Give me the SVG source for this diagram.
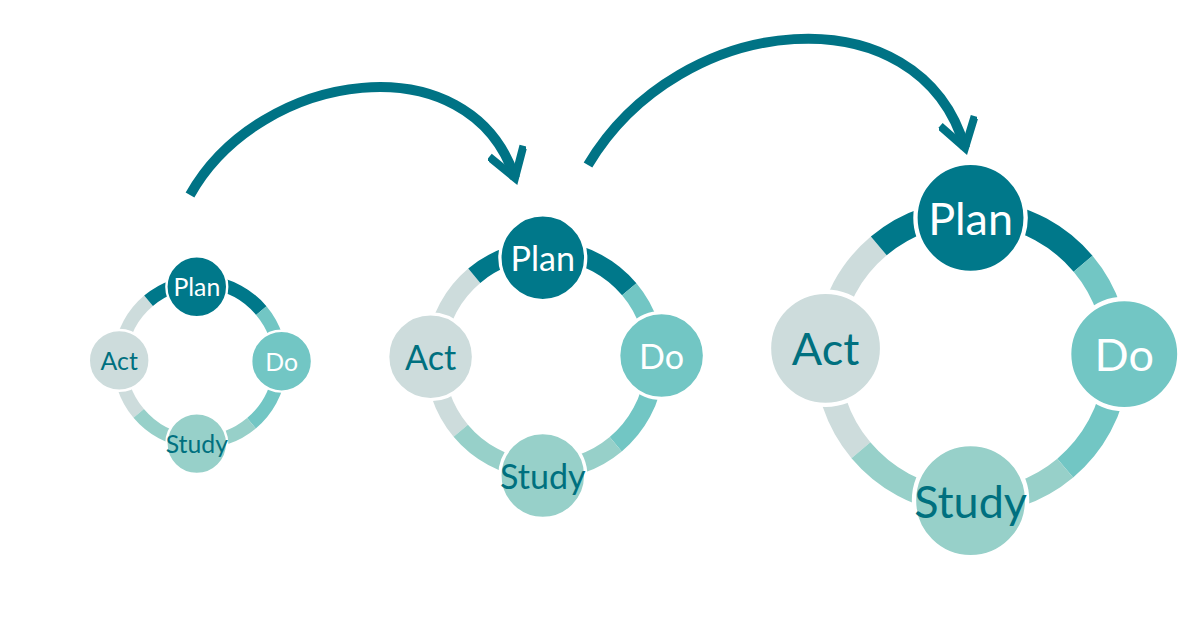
<svg xmlns="http://www.w3.org/2000/svg" width="1198" height="618" viewBox="0 0 1198 618">
<defs>
<style>
.rp{fill:none;stroke:#00788a;stroke-width:17}
.rd{fill:none;stroke:#72c6c4;stroke-width:17}
.rs{fill:none;stroke:#97d0c9;stroke-width:17}
.ra{fill:none;stroke:#cddcdc;stroke-width:17}
.n{stroke:#fff;stroke-width:3}
.t{font-family:Lato,"Open Sans",sans-serif;font-size:31px;text-anchor:middle;dominant-baseline:central}
.big{fill:none;stroke:#007385;stroke-width:10;stroke-linecap:butt}
</style>
<marker id="ch" viewBox="0 0 10 10" refX="8" refY="5" markerWidth="4" markerHeight="4" orient="auto" markerUnits="strokeWidth">
<polyline points="1,0.5 8,5 1,9.5" fill="none" stroke="#007385" stroke-width="2"/>
</marker>
</defs>
<rect width="1198" height="618" fill="#fff"/>
<g id="connectors">
<path class="big" d="M190 195 C260 70 470 40 515 178" marker-end="url(#ch)"/>
<path class="big" d="M588 165 C680 10 920 -10 965 148" marker-end="url(#ch)"/>
</g>
<g id="cycle1" transform="translate(200 362) scale(0.8)">
<g id="ring1">
<path class="ra" d="M-76.6 64.3 A100 100 0 0 1 -64.3 -76.6"/>
<path class="rp" d="M-64.3 -76.6 A100 100 0 0 1 76.6 -64.3"/>
<path class="rd" d="M76.6 -64.3 A100 100 0 0 1 64.3 76.6"/>
<path class="rs" d="M64.3 76.6 A100 100 0 0 1 -76.6 64.3"/>
</g>
<g id="plan1"><circle class="n" cx="-4" cy="-94" r="38" fill="#00788a"/><text class="t" x="-4" y="-94" fill="#fff">Plan</text></g>
<g id="do1"><circle class="n" cx="102" cy="-1" r="38" fill="#72c6c4"/><text class="t" x="102" y="-1" fill="#fff">Do</text></g>
<g id="study1"><circle class="n" cx="-4" cy="102" r="38" fill="#97d0c9"/><text class="t" x="-4" y="102" fill="#00707f">Study</text></g>
<g id="act1"><circle class="n" cx="-101" cy="-2" r="38" fill="#cddcdc"/><text class="t" x="-101" y="-2" fill="#00707f">Act</text></g>
</g>
<g id="cycle2" transform="translate(545 360) scale(1.1)">
<g id="ring2">
<path class="ra" d="M-76.6 64.3 A100 100 0 0 1 -64.3 -76.6"/>
<path class="rp" d="M-64.3 -76.6 A100 100 0 0 1 76.6 -64.3"/>
<path class="rd" d="M76.6 -64.3 A100 100 0 0 1 64.3 76.6"/>
<path class="rs" d="M64.3 76.6 A100 100 0 0 1 -76.6 64.3"/>
</g>
<g id="plan2"><circle class="n" cx="-2" cy="-93" r="39" fill="#00788a"/><text class="t" x="-2" y="-93" fill="#fff">Plan</text></g>
<g id="do2"><circle class="n" cx="106" cy="-4" r="39" fill="#72c6c4"/><text class="t" x="106" y="-4" fill="#fff">Do</text></g>
<g id="study2"><circle class="n" cx="-2" cy="105" r="39" fill="#97d0c9"/><text class="t" x="-2" y="105" fill="#00707f">Study</text></g>
<g id="act2"><circle class="n" cx="-104" cy="-3" r="39" fill="#cddcdc"/><text class="t" x="-104" y="-3" fill="#00707f">Act</text></g>
</g>
<g id="cycle3" transform="translate(972 357) scale(1.45)">
<g id="ring3">
<path class="ra" d="M-76.6 64.3 A100 100 0 0 1 -64.3 -76.6"/>
<path class="rp" d="M-64.3 -76.6 A100 100 0 0 1 76.6 -64.3"/>
<path class="rd" d="M76.6 -64.3 A100 100 0 0 1 64.3 76.6"/>
<path class="rs" d="M64.3 76.6 A100 100 0 0 1 -76.6 64.3"/>
</g>
<g id="plan3"><circle class="n" cx="-1" cy="-96" r="38" fill="#00788a"/><text class="t" x="-1" y="-96" fill="#fff">Plan</text></g>
<g id="do3"><circle class="n" cx="105" cy="-2" r="38" fill="#72c6c4"/><text class="t" x="105" y="-2" fill="#fff">Do</text></g>
<g id="study3"><circle class="n" cx="-1" cy="99" r="39" fill="#97d0c9"/><text class="t" x="-1" y="99" fill="#00707f">Study</text></g>
<g id="act3"><circle class="n" cx="-101" cy="-6" r="39" fill="#cddcdc"/><text class="t" x="-101" y="-6" fill="#00707f">Act</text></g>
</g>
</svg>
